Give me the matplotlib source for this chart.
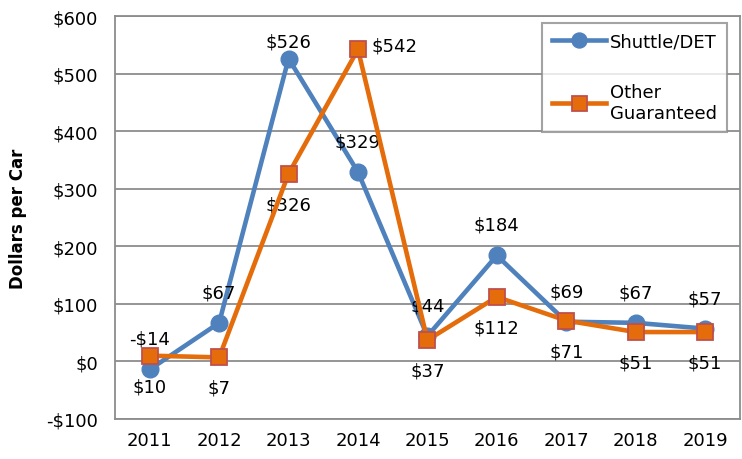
import numpy as np
import matplotlib.pyplot as plt

# Data
years = ['2011', '2012', '2013', '2014', '2015', '2016', '2017', '2018', '2019']
shuttle = [-14, 67, 526, 329, 44, 184, 69, 67, 57]
other = [10, 7, 326, 542, 37, 112, 71, 51, 51]
shuttle_labels = ['-$14', '$67', '$526', '$329', '$44', '$184', '$69', '$67', '$57']
other_labels = ['$10', '$7', '$326', '$542', '$37', '$112', '$71', '$51', '$51']
yticks = [-100, 0, 100, 200, 300, 400, 500, 600]

blue = '#4F81BD'
orange = '#E46C0A'
grey = '#8C8C8C'

plt.rcParams['font.family'] = ['DejaVu Sans']

fig = plt.figure(figsize=(7.42, 4.6), dpi=100)
ax = fig.add_axes([0.155, 0.087, 0.842, 0.876])

x = np.arange(len(years))
ax.plot(x, shuttle, color=blue, lw=3.3, marker='o', ms=12, mfc=blue, mec=blue,
        label='Shuttle/DET', zorder=3)
ax.plot(x, other, color=orange, lw=3.3, marker='s', ms=12, mfc=orange,
        mec='#C0504D', mew=1.3, label='Other\nGuaranteed', zorder=4)

# data labels: blue above, orange below
for i in range(len(years)):
    dy = 12 if i == 2 else 22
    ax.annotate(shuttle_labels[i], (x[i], shuttle[i]), xytext=(0, dy),
                textcoords='offset points', ha='center', va='center', fontsize=13)
    if i == 3:
        ax.annotate(other_labels[i], (x[i], other[i]), xytext=(26, 3),
                    textcoords='offset points', ha='center', va='center', fontsize=13)
    else:
        ax.annotate(other_labels[i], (x[i], other[i]), xytext=(0, -22),
                    textcoords='offset points', ha='center', va='center', fontsize=13)

ax.set_xlim(-0.5, len(years) - 0.5)
ax.set_ylim(-100, 600)
ax.set_xticks(x)
ax.set_xticklabels(years, fontsize=13)
ax.set_yticks(yticks)
ax.set_yticklabels(['-$100' if v < 0 else '$' + str(v) for v in yticks], fontsize=13)
ax.tick_params(axis='y', length=0, pad=12)
ax.tick_params(axis='x', length=0, pad=9)
ax.grid(axis='y', color=grey, lw=1.3)
ax.set_axisbelow(True)
for s in ax.spines.values():
    s.set_color(grey)
    s.set_linewidth(1.3)

ax.set_ylabel('Dollars per Car', fontsize=12, fontweight='bold', labelpad=14)

leg = ax.legend(loc='upper right', bbox_to_anchor=(0.979, 0.983), fontsize=13,
                frameon=True, fancybox=False, handlelength=3.0, labelspacing=1.8,
                borderpad=0.55, borderaxespad=0, handletextpad=0.2, markerscale=0.9)
leg.get_frame().set_edgecolor(grey)
leg.get_frame().set_linewidth(1.5)

fig.savefig('out.png', dpi=100)
